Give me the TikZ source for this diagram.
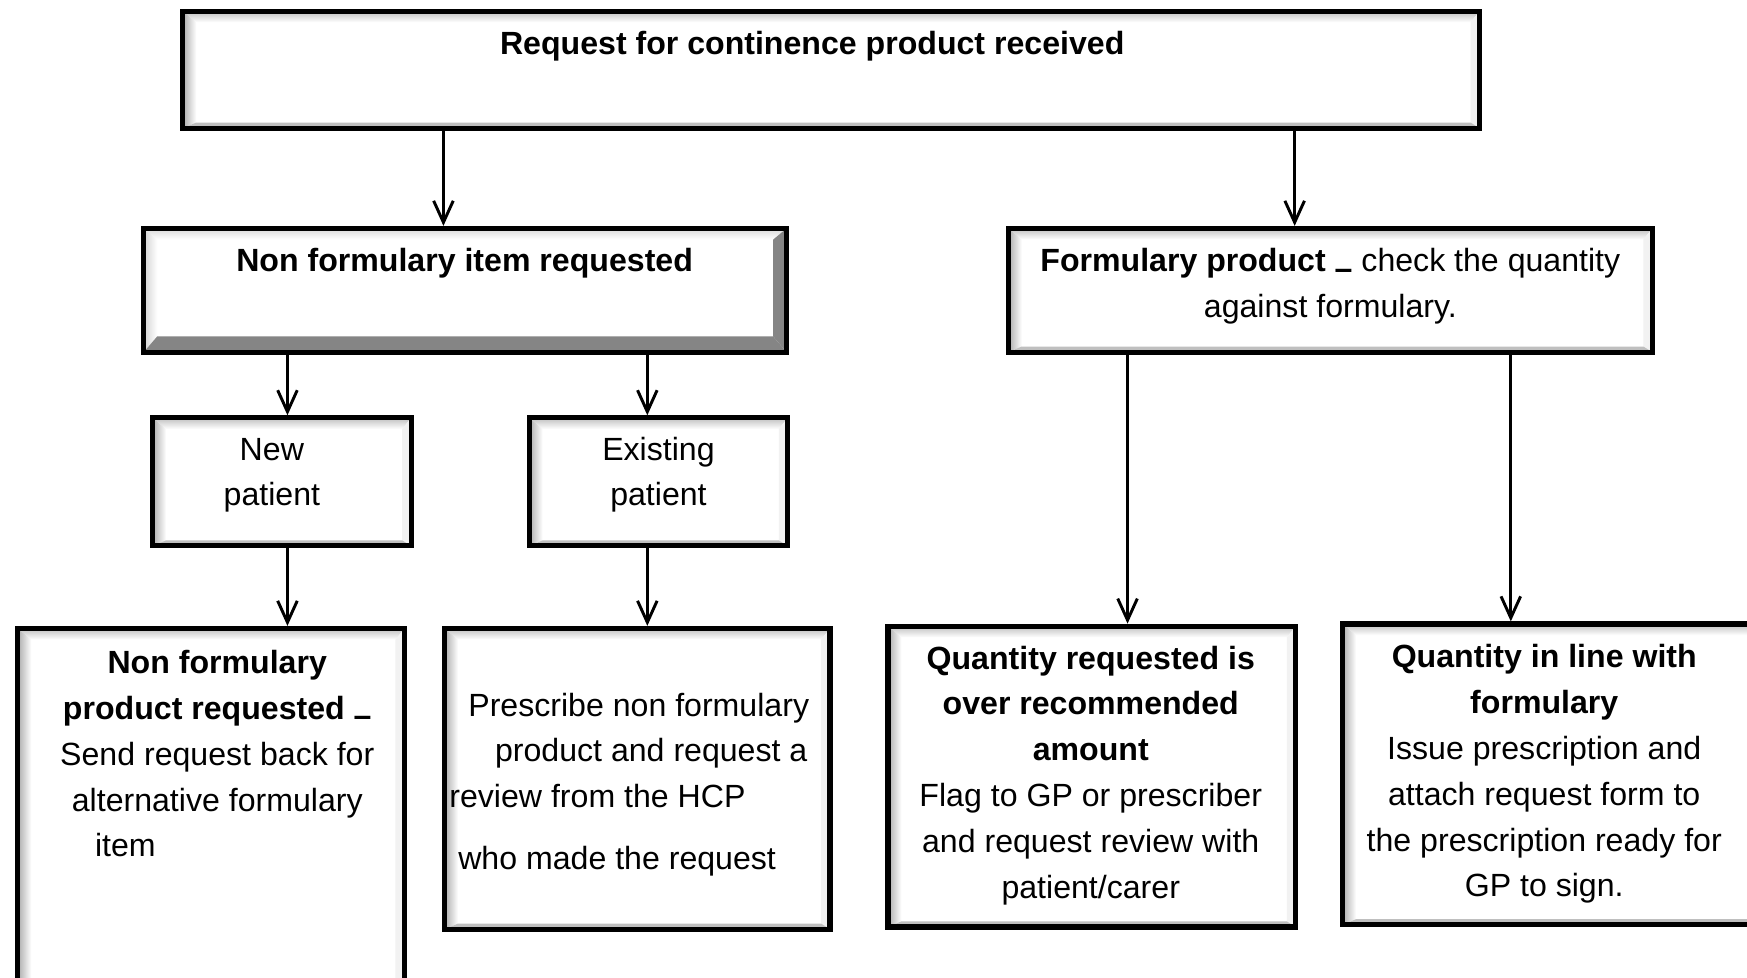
\documentclass[tikz,border=0pt]{standalone}
\usepackage{fontspec}
\setmainfont{Liberation Sans}
\usepackage{tikz}
\usetikzlibrary{arrows.meta}

% bevel inside a box: top, left, right, bottom colours, bottom and right widths
\newcommand{\bevelpic}[6]{%
  \coordinate (bNW) at (path picture bounding box.north west);
  \coordinate (bNE) at (path picture bounding box.north east);
  \coordinate (bSW) at (path picture bounding box.south west);
  \coordinate (bSE) at (path picture bounding box.south east);
  \coordinate (iNW) at ([shift={(12,10)}]bNW);
  \coordinate (iNE) at ([shift={(-#6,10)}]bNE);
  \coordinate (iSW) at ([shift={(12,-#5)}]bSW);
  \coordinate (iSE) at ([shift={(-#6,-#5)}]bSE);
  \shade[top color=#1, bottom color=white] (bNW) -- (bNE) -- (iNE) -- (iNW) -- cycle;
  \shade[left color=#2, right color=white] (bNW) -- (iNW) -- (iSW) -- (bSW) -- cycle;
  \fill[#3] (bNE) -- (bSE) -- (iSE) -- (iNE) -- cycle;
  \fill[#4] (bSW) -- (iSW) -- (iSE) -- (bSE) -- cycle;
}

\tikzset{
  box/.style={draw, line width=2.6pt, fill=white, inner sep=0pt,
    path picture={\bevelpic{gray!50}{gray!65}{gray!10}{gray!50}{5}{8}}},
  raisedbox/.style={draw, line width=2.6pt, fill=white, inner sep=0pt,
    path picture={\bevelpic{gray!30}{gray!35}{black!48}{black!48}{14}{12}}},
  txt/.style={font=\fontsize{16.4}{23.4}\selectfont, align=center, anchor=base, inner sep=0pt},
  arr/.style={line width=1.5pt, -{Straight Barb[length=11pt,width=10pt]}}
}

\begin{document}
\begin{tikzpicture}[x=0.02cm, y=-0.02cm]
\useasboundingbox (0,0) rectangle (1568,877);
\clip (0,0) rectangle (1568,877);

% boxes
\node[box, minimum width=23.28cm, minimum height=2.10cm] (req) at (746,62.5) {};
\node[raisedbox, minimum width=11.54cm, minimum height=2.22cm] (nonf) at (417.5,260.5) {};
\node[box, minimum width=11.56cm, minimum height=2.22cm] (form) at (1194,260.5) {};
\node[box, minimum width=4.64cm, minimum height=2.30cm] (newp) at (253,432.5) {};
\node[box, minimum width=4.64cm, minimum height=2.30cm] (oldp) at (591,432.5) {};
\node[box, minimum width=6.94cm, minimum height=7.52cm] (sendback) at (189.5,752) {};
\node[box, minimum width=6.92cm, minimum height=5.40cm] (prescribe) at (572,699) {};
\node[box, minimum width=7.32cm, minimum height=5.40cm] (over) at (980,697) {};
\node[box, minimum width=7.90cm, minimum height=5.40cm] (inline) at (1402.5,695) {};

% texts, placed by the baseline of their last line
\node[txt] (reqt) at (729,49) {\textbf{Request for continence product received}};
\node[txt] (nonft) at (417,244) {\textbf{Non formulary item requested}};
\node[txt] (formt) at (1194,285) {\textbf{Formulary product \raisebox{-0.23em}{–}} check the quantity\\against formulary.};
\node[txt] (newpt) at (244,454) {New\\patient};
\node[txt] (oldpt) at (591,454) {Existing\\patient};
\node[txt] (sendbackt) at (195,769) {\textbf{Non formulary}\\\textbf{product requested \raisebox{-0.23em}{–}}\\Send request back for\\alternative formulary\\item\hspace*{3.3cm}};
\node[txt, align=left, anchor=base west] (prescribet) at (403,780) {\hspace*{0.34cm}Prescribe non formulary\\\hspace*{0.82cm}product and request a\\review from the HCP\\[0.28cm]\hspace*{0.16cm}who made the request};
\node[txt] (overt) at (979,806) {\textbf{Quantity requested is}\\\textbf{over recommended}\\\textbf{amount}\\Flag to GP or prescriber\\and request review with\\patient/carer};
\node[txt] (inlinet) at (1386,805) {\textbf{Quantity in line with}\\\textbf{formulary}\\Issue prescription and\\attach request form to\\the prescription ready for\\GP to sign.};

% arrows
\coordinate (xnonf) at (398,0);
\coordinate (xform) at (1162,0);
\coordinate (xnew) at (258,0);
\coordinate (xold) at (581,0);
\coordinate (xover) at (1012,0);
\coordinate (xin) at (1356,0);
\draw[arr] (req.south -| xnonf) -- (nonf.north -| xnonf);
\draw[arr] (req.south -| xform) -- (form.north -| xform);
\draw[arr] (nonf.south -| xnew) -- (newp.north -| xnew);
\draw[arr] (nonf.south -| xold) -- (oldp.north -| xold);
\draw[arr] (newp.south -| xnew) -- (sendback.north -| xnew);
\draw[arr] (oldp.south -| xold) -- (prescribe.north -| xold);
\draw[arr] (form.south -| xover) -- (over.north -| xover);
\draw[arr] (form.south -| xin) -- (inline.north -| xin);
\end{tikzpicture}
\end{document}
